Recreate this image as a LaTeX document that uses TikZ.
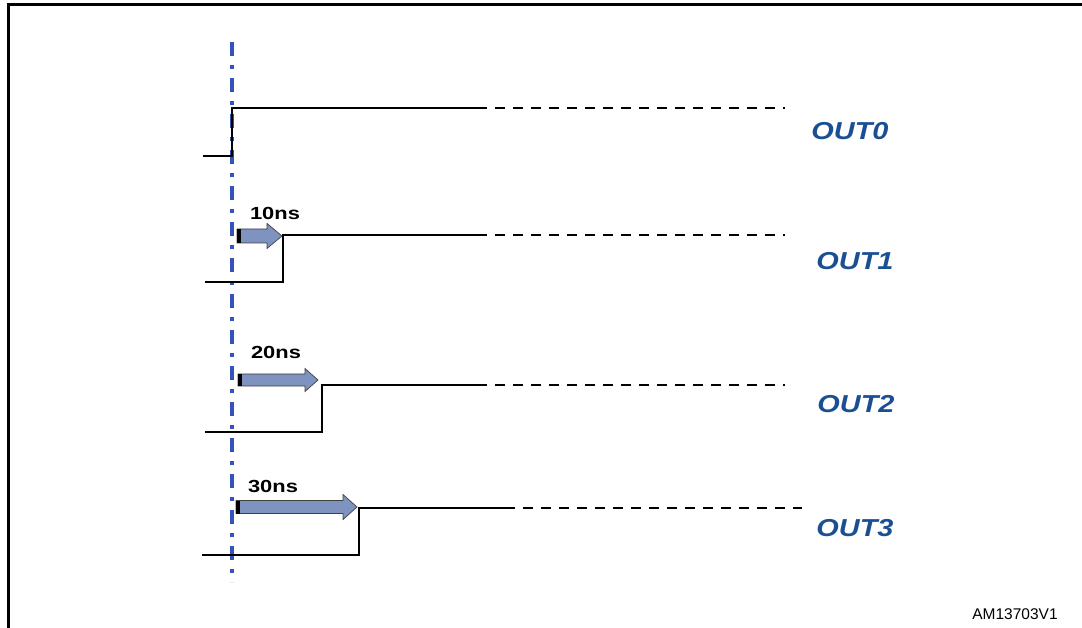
\documentclass[tikz,border=0pt]{standalone}
\usepackage{fontspec}
\setmainfont{Liberation Sans}
\definecolor{outblue}{HTML}{1B4F93}
\definecolor{axisblue}{HTML}{3452B8}
\definecolor{arrfill}{HTML}{7F93C0}
\tikzset{
  sig/.style={black, line width=2.1pt, line join=miter},
  sigdash/.style={black, line width=2.1pt, dash pattern=on 10pt off 8pt, dash phase=10pt},
  outlbl/.style={text=outblue, font=\fontsize{24.5}{24.5}\selectfont\bfseries\itshape, inner sep=0pt, xscale=1.18},
  nslbl/.style={text=black, font=\fontsize{17.5}{17.5}\selectfont\bfseries, inner sep=0pt, xscale=1.25},
  reflbl/.style={text=black, font=\fontsize{15.5}{15.5}\selectfont, inner sep=0pt},
  refaxis/.style={axisblue, line width=3.2pt, dash pattern=on 14pt off 9pt on 4pt off 9pt},
}
\newcommand{\sigarrow}[6]{%
  \filldraw[fill=arrfill, draw=black!75, line width=0.7pt]
    (#1,{#3-#5}) -- (#6,{#3-#5}) -- (#6,{#3-#4}) -- (#2,#3) -- (#6,{#3+#4}) -- (#6,{#3+#5}) -- (#1,{#3+#5}) -- cycle;
  \fill[black] (#1,{#3-#5}) rectangle ({#1+4},{#3+#5});
}
\begin{document}
\begin{tikzpicture}[x=1pt, y=-1pt]
\useasboundingbox (0,0) rectangle (1082,628);
% frame
\draw[black, line width=3pt] (8,640) -- (8,5) -- (1090,5);
% reference axis
\coordinate (axtop) at (232,42);
\coordinate (axbot) at (232,582);
\draw[refaxis] (axtop) -- (axbot);
% OUT0
\draw[sig] (203,156) -- (232,156) -- (232,108) -- (487,108);
\draw[sigdash] (487,108) -- (785,108);
% OUT1
\draw[sig] (205,282) -- (283,282) -- (283,235) -- (487,235);
\draw[sigdash] (487,235) -- (785,235);
% OUT2
\draw[sig] (205,432) -- (322,432) -- (322,385) -- (487,385);
\draw[sigdash] (487,385) -- (785,385);
% OUT3
\draw[sig] (202,555) -- (359,555) -- (359,508) -- (515,508);
\draw[sigdash] (515,508) -- (802,508);
% delay arrows
\sigarrow{237}{282}{236}{12.5}{7}{267}
\sigarrow{238}{318}{380}{11.5}{6}{305}
\sigarrow{236}{357}{507}{12.5}{6.5}{343}
% labels
\node[outlbl] (o0) at (850,131) {OUT0};
\node[outlbl] (o1) at (855,261) {OUT1};
\node[outlbl] (o2) at (856,404) {OUT2};
\node[outlbl] (o3) at (855,528) {OUT3};
\node[nslbl] (d1) at (275,213) {10ns};
\node[nslbl] (d2) at (276,352) {20ns};
\node[nslbl] (d3) at (273,486) {30ns};
\node[reflbl] (ref) at (1015,614) {AM13703V1};
\end{tikzpicture}
\end{document}
